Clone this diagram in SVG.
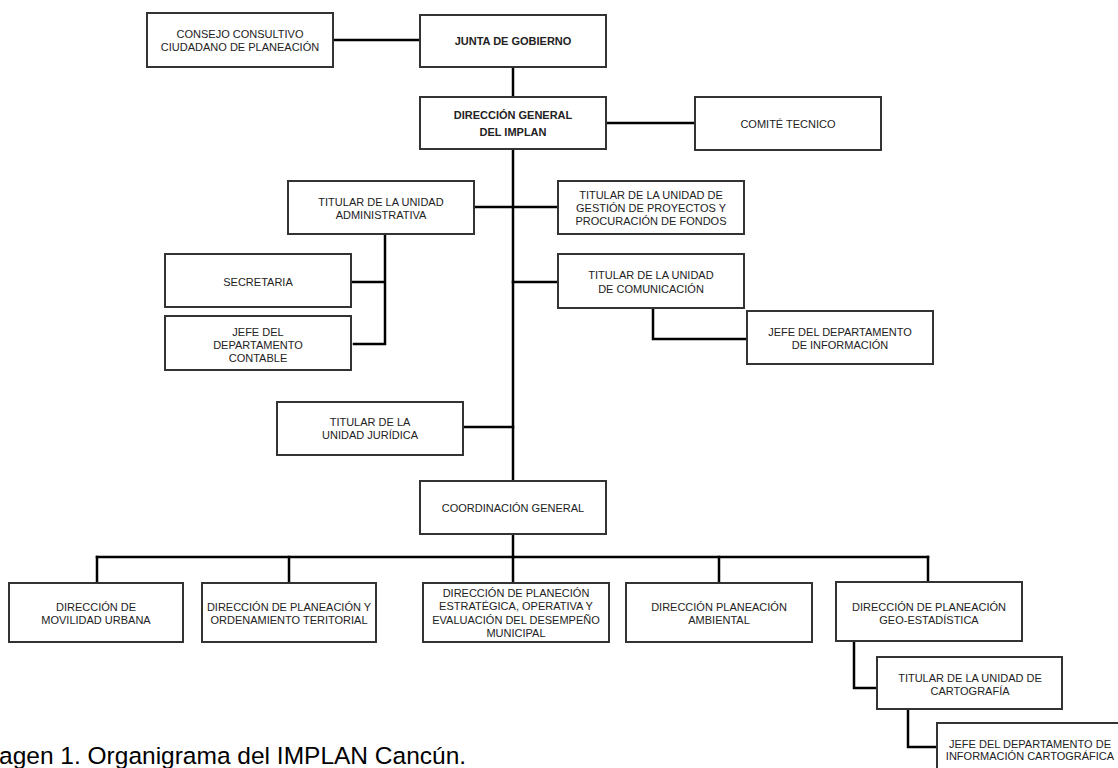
<svg xmlns="http://www.w3.org/2000/svg" width="1118" height="768" viewBox="0 0 1118 768">
<style>
.box{fill:#fff;stroke:#333;stroke-width:2}
.t{font-family:"Liberation Sans",Arial,sans-serif;font-size:11px;fill:#222;text-anchor:middle}
.b{font-weight:bold}
.c{fill:none;stroke:#000;stroke-width:2.5;stroke-linecap:square}
.cap{font-family:"Liberation Sans",Arial,sans-serif;font-size:24.5px;fill:#000}
</style>
<rect width="1118" height="768" fill="#fff"/>
<g id="connectors">
<path class="c" d="M333 40H420"/>
<path class="c" d="M513 67V97"/>
<path class="c" d="M513 149V481"/>
<path class="c" d="M606 123H695"/>
<path class="c" d="M474 207H558"/>
<path class="c" d="M385 234V344M351 282H385M354 344H385"/>
<path class="c" d="M513 282H558"/>
<path class="c" d="M653 308V339H747"/>
<path class="c" d="M463 427H513"/>
<path class="c" d="M513 534V557"/>
<path class="c" d="M97 557H928"/>
<path class="c" d="M97 557V583M289 557V583M513 557V583M719 557V583M928 557V582"/>
<path class="c" d="M854 641V688H877"/>
<path class="c" d="M908 709V747H937"/>
</g>
<g id="consejo"><rect class="box" x="147" y="13" width="186" height="54"/><text class="t" x="240" y="38">CONSEJO CONSULTIVO</text><text class="t" x="240" y="51">CIUDADANO DE PLANEACIÓN</text></g>
<g id="junta"><rect class="box" x="420" y="15" width="186" height="52"/><text class="t b" x="513" y="45">JUNTA DE GOBIERNO</text></g>
<g id="direccion-general"><rect class="box" x="420" y="97" width="186" height="52"/><text class="t b" x="513" y="119">DIRECCIÓN GENERAL</text><text class="t b" x="513" y="136">DEL IMPLAN</text></g>
<g id="comite"><rect class="box" x="695" y="97" width="186" height="53"/><text class="t" x="788" y="127.5">COMITÉ TECNICO</text></g>
<g id="gestion"><rect class="box" x="558" y="181" width="186" height="53"/><text class="t" x="651" y="199">TITULAR DE LA UNIDAD DE</text><text class="t" x="651" y="211.5">GESTIÓN DE PROYECTOS Y</text><text class="t" x="651" y="224.5">PROCURACIÓN DE FONDOS</text></g>
<g id="administrativa"><rect class="box" x="288" y="181" width="186" height="53"/><text class="t" x="381" y="206">TITULAR DE LA UNIDAD</text><text class="t" x="381" y="219">ADMINISTRATIVA</text></g>
<g id="secretaria"><rect class="box" x="165" y="254" width="186" height="53"/><text class="t" x="258" y="285.5">SECRETARIA</text></g>
<g id="contable"><rect class="box" x="165" y="316" width="186" height="54"/><text class="t" x="258" y="336">JEFE DEL</text><text class="t" x="258" y="349">DEPARTAMENTO</text><text class="t" x="258" y="362">CONTABLE</text></g>
<g id="comunicacion"><rect class="box" x="558" y="254" width="186" height="54"/><text class="t" x="651" y="279">TITULAR DE LA UNIDAD</text><text class="t" x="651" y="292.5">DE COMUNICACIÓN</text></g>
<g id="informacion"><rect class="box" x="747" y="311" width="186" height="53"/><text class="t" x="840" y="336">JEFE DEL DEPARTAMENTO</text><text class="t" x="840" y="349">DE INFORMACIÓN</text></g>
<g id="juridica"><rect class="box" x="277" y="402" width="186" height="53"/><text class="t" x="370" y="426">TITULAR DE LA</text><text class="t" x="370" y="439">UNIDAD JURÍDICA</text></g>
<g id="coordinacion"><rect class="box" x="420" y="481" width="186" height="53"/><text class="t" x="513" y="512">COORDINACIÓN GENERAL</text></g>
<g id="movilidad"><rect class="box" x="9" y="583" width="174" height="59"/><text class="t" x="96" y="610.5">DIRECCIÓN DE</text><text class="t" x="96" y="624">MOVILIDAD URBANA</text></g>
<g id="ordenamiento"><rect class="box" x="202" y="583" width="174" height="59"/><text class="t" x="289" y="610.5">DIRECCIÓN DE PLANEACIÓN Y</text><text class="t" x="289" y="624">ORDENAMIENTO TERITORIAL</text></g>
<g id="estrategica"><rect class="box" x="423" y="583" width="186" height="59"/><text class="t" x="516" y="597">DIRECCIÓN DE PLANECIÓN</text><text class="t" x="516" y="610">ESTRATÉGICA, OPERATIVA Y</text><text class="t" x="516" y="623.5">EVALUACIÓN DEL DESEMPEÑO</text><text class="t" x="516" y="637">MUNICIPAL</text></g>
<g id="ambiental"><rect class="box" x="626" y="583" width="186" height="59"/><text class="t" x="719" y="610.5">DIRECCIÓN PLANEACIÓN</text><text class="t" x="719" y="624">AMBIENTAL</text></g>
<g id="geoestadistica"><rect class="box" x="836" y="582" width="186" height="59"/><text class="t" x="929" y="611">DIRECCIÓN DE PLANEACIÓN</text><text class="t" x="929" y="624">GEO-ESTADÍSTICA</text></g>
<g id="cartografia"><rect class="box" x="877" y="657" width="185" height="52"/><text class="t" x="970" y="681.5">TITULAR DE LA UNIDAD DE</text><text class="t" x="970" y="695">CARTOGRAFÍA</text></g>
<g id="info-cartografica"><rect class="box" x="937" y="723" width="186" height="53"/><text class="t" x="1030" y="747.5">JEFE DEL DEPARTAMENTO DE</text><text class="t" x="1030" y="760">INFORMACIÓN CARTOGRÁFICA</text></g>
<text class="cap" x="-1" y="763.5">agen 1. Organigrama del IMPLAN Cancún.</text>
</svg>
